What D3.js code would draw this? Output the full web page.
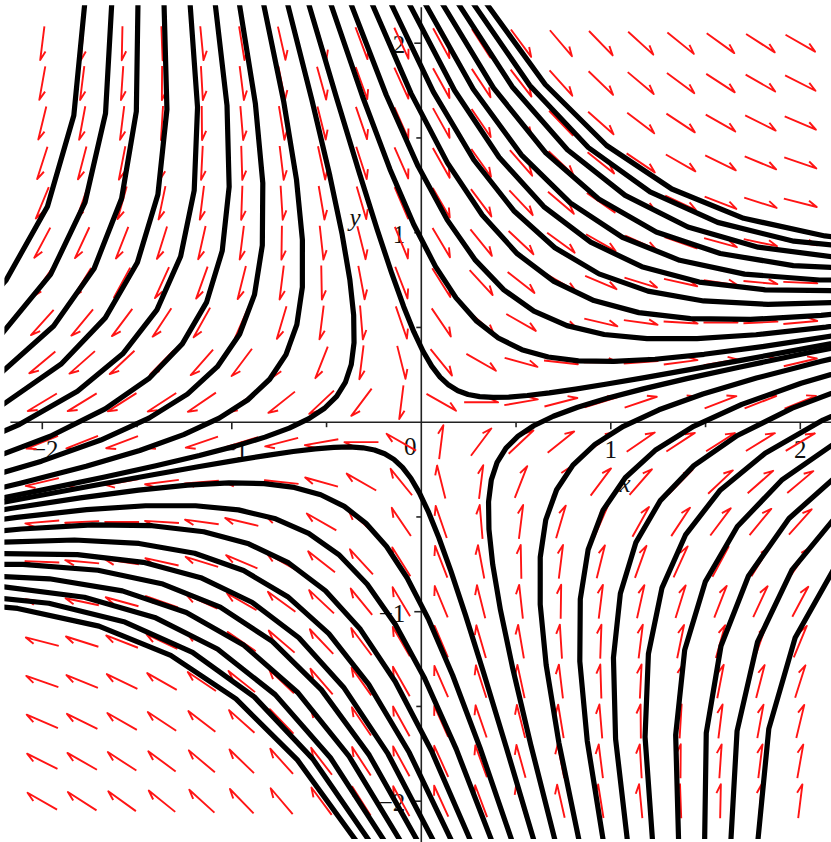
<!DOCTYPE html>
<html>
<head>
<meta charset="utf-8">
<script src="https://cdn.jsdelivr.net/npm/d3@7"></script>
<style>
  body { margin: 0; background: #fff; }
  svg { display: block; }
</style>
</head>
<body>
<script>
// arrow grid, same 20 values on both axes
const gridValues = [-2, -1.7895, -1.5789, -1.3684, -1.1579, -0.9474, -0.7368, -0.5263, -0.3158, -0.1053,
                    0.1053, 0.3158, 0.5263, 0.7368, 0.9474, 1.1579, 1.3684, 1.5789, 1.7895, 2];

// linear system:  x' = 2x + 1.5y,  y' = x - 3y
const coefX = [2, 1.5];
const coefY = [1, -3];

// x where each solution curve comes in through the top edge (y = 2.2) ...
const topStartX = [-1.775, -1.633, -1.495, -1.358, -1.221, -1.089, -0.962, -0.835, -0.709, -0.598,
                   -0.482, -0.376, -0.265, -0.165, -0.070, 0.014, 0.104, 0.188, 0.267, 0.336];
// ... and through the bottom edge (y = -2.2)
const bottomStartX = [1.775, 1.633, 1.495, 1.358, 1.221, 1.089, 0.962, 0.835, 0.709, 0.598,
                      0.482, 0.376, 0.265, 0.165, 0.070, -0.014, -0.104, -0.188, -0.267, -0.336];

const xTickLabels = [-2, -1, 1, 2];
const yTickLabels = [-2, -1, 1, 2];
const minorTicks = [-1.5, -0.5, 0.5, 1.5];

function drawFieldPlot() {

    // define dimensions

    const dms = {
        width: 831,
        height: 842,
        originX: 421.3,
        originY: 422.2,
        unit: 189.5,
        extent: 2.2
    };

    // draw canvas

    const svg = d3.select("body")
                    .append("svg")
                        .attr("width", dms.width)
                        .attr("height", dms.height);

    // define scales

    const xScale = d3.scaleLinear()
                        .domain([-dms.extent, dms.extent])
                        .range([dms.originX - dms.extent * dms.unit, dms.originX + dms.extent * dms.unit]);

    const yScale = d3.scaleLinear()
                        .domain([-dms.extent, dms.extent])
                        .range([dms.originY + dms.extent * dms.unit, dms.originY - dms.extent * dms.unit]);

    svg.append("clipPath")
        .attr("id", "plot-clip")
        .append("rect")
            .attr("x", xScale(-dms.extent))
            .attr("y", yScale(dms.extent))
            .attr("width", xScale(dms.extent) - xScale(-dms.extent))
            .attr("height", yScale(-dms.extent) - yScale(dms.extent));

    const field = (x, y) => [coefX[0] * x + coefX[1] * y, coefY[0] * x + coefY[1] * y];

    // axes

    const axes = svg.append("g")
                    .attr("stroke", "#222")
                    .attr("stroke-width", 1.6);

    axes.append("line")
        .attr("x1", xScale(-dms.extent) + 6).attr("x2", dms.width)
        .attr("y1", yScale(0)).attr("y2", yScale(0));
    axes.append("line")
        .attr("x1", xScale(0)).attr("x2", xScale(0))
        .attr("y1", yScale(dms.extent) + 2).attr("y2", dms.height);

    axes.selectAll(".xtick")
        .data(xTickLabels.concat(minorTicks))
        .enter()
        .append("line")
            .attr("x1", d => xScale(d)).attr("x2", d => xScale(d))
            .attr("y1", yScale(0)).attr("y2", d => yScale(0) + (Number.isInteger(d) ? 7 : 5));

    axes.selectAll(".ytick")
        .data(yTickLabels.concat(minorTicks))
        .enter()
        .append("line")
            .attr("x1", xScale(0)).attr("x2", d => xScale(0) - (Number.isInteger(d) ? 7 : 5))
            .attr("y1", d => yScale(d)).attr("y2", d => yScale(d));

    const labels = svg.append("g")
                        .attr("font-family", "'Liberation Serif', 'Times New Roman', serif")
                        .attr("font-size", 25)
                        .attr("fill", "#111");

    const fmt = d => (d < 0 ? "\u2212" : "") + Math.abs(d);

    labels.selectAll(".xlab")
        .data(xTickLabels)
        .enter()
        .append("text")
            .attr("x", d => xScale(d) + (d < 0 ? 3 : 0))
            .attr("y", yScale(0) + 36)
            .attr("text-anchor", "middle")
            .text(fmt);

    labels.append("text")
        .attr("x", xScale(0) - 11)
        .attr("y", yScale(0) + 33)
        .attr("text-anchor", "middle")
        .text("0");

    labels.selectAll(".ylab")
        .data(yTickLabels)
        .enter()
        .append("text")
            .attr("x", xScale(0) - 16)
            .attr("y", d => yScale(d) + 10)
            .attr("text-anchor", "end")
            .text(fmt);

    labels.append("text")
        .attr("x", 625)
        .attr("y", 492)
        .attr("text-anchor", "middle")
        .attr("font-style", "italic")
        .text("x");

    labels.append("text")
        .attr("x", 355)
        .attr("y", 226)
        .attr("text-anchor", "middle")
        .attr("font-style", "italic")
        .text("y");

    // direction field arrows (unit length, half arrowhead)

    const gridPoints = d3.cross(gridValues, gridValues);
    const arrowLen = 34;
    const barbLen = 10;
    const barbAngle = 25 * Math.PI / 180;

    const arrowPath = ([gx, gy]) => {
        const [fx, fy] = field(gx, gy);
        const n = Math.hypot(fx, fy);
        const ux = fx / n, uy = -fy / n;
        const cx = xScale(gx), cy = yScale(gy);
        const tipX = cx + ux * arrowLen / 2, tipY = cy + uy * arrowLen / 2;
        const bx = -ux, by = -uy;
        const rx = bx * Math.cos(barbAngle) - by * Math.sin(barbAngle);
        const ry = bx * Math.sin(barbAngle) + by * Math.cos(barbAngle);
        return `M${cx - ux * arrowLen / 2},${cy - uy * arrowLen / 2}L${tipX},${tipY}L${tipX + rx * barbLen},${tipY + ry * barbLen}`;
    };

    svg.append("g")
        .selectAll("path")
        .data(gridPoints)
        .enter()
        .append("path")
            .attr("d", arrowPath)
            .attr("fill", "none")
            .attr("stroke", "#ff1414")
            .attr("stroke-width", 1.9)
            .attr("stroke-linejoin", "round");

    // solution curves, RK4 from the edge until they leave the window

    const trace = start => {
        const pts = [start];
        let [x, y] = start;
        const h = 0.02;
        for (let i = 1; i < 4000; i++) {
            const k1 = field(x, y);
            const k2 = field(x + h / 2 * k1[0], y + h / 2 * k1[1]);
            const k3 = field(x + h / 2 * k2[0], y + h / 2 * k2[1]);
            const k4 = field(x + h * k3[0], y + h * k3[1]);
            x += h / 6 * (k1[0] + 2 * k2[0] + 2 * k3[0] + k4[0]);
            y += h / 6 * (k1[1] + 2 * k2[1] + 2 * k3[1] + k4[1]);
            if (i % 4 === 0) pts.push([x, y]);
            if (Math.abs(x) > 2.4 || Math.abs(y) > 2.4) { pts.push([x, y]); break; }
        }
        return pts;
    };

    const starts = topStartX.map(x => [x, dms.extent + 0.02])
                    .concat(bottomStartX.map(x => [x, -dms.extent - 0.02]));

    const line = d3.line()
                    .x(d => xScale(d[0]))
                    .y(d => yScale(d[1]));

    svg.append("g")
        .attr("clip-path", "url(#plot-clip)")
        .selectAll("path")
        .data(starts.map(trace))
        .enter()
        .append("path")
            .attr("d", line)
            .attr("fill", "none")
            .attr("stroke", "#000")
            .attr("stroke-width", 5.2)
            .attr("stroke-linejoin", "round");
}

drawFieldPlot();
</script>
</body>
</html>
